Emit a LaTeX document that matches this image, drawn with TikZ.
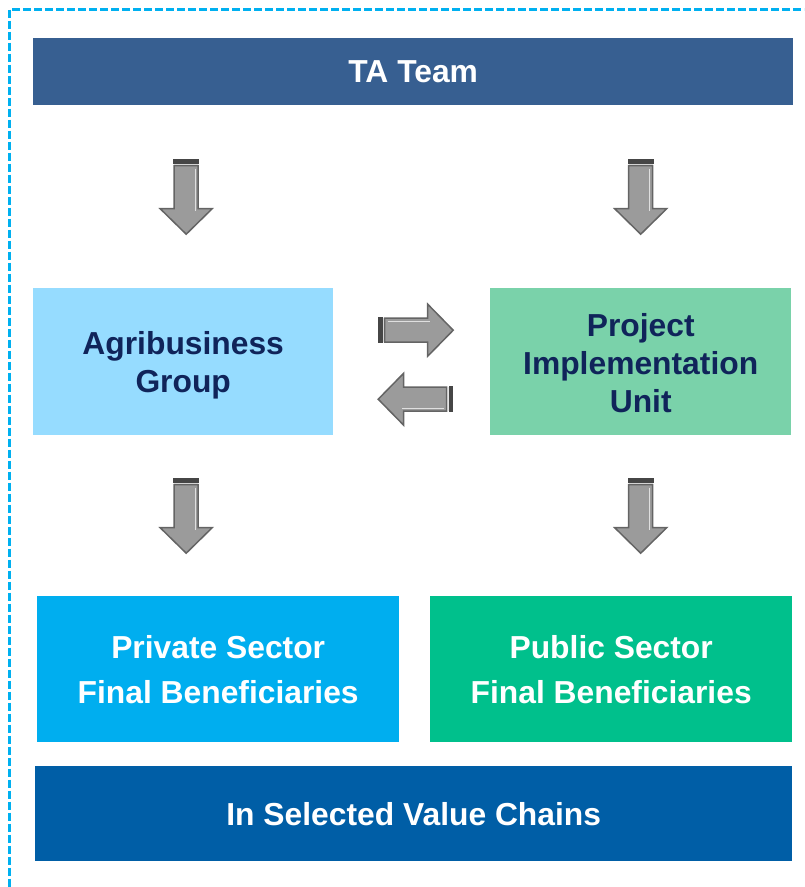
\documentclass[tikz,border=0pt]{standalone}
\usepackage{fontspec}
\setmainfont{Liberation Sans}
\usetikzlibrary{positioning, calc}

\definecolor{taBlue}{RGB}{55,95,145}
\definecolor{agriBlue}{RGB}{150,220,255}
\definecolor{piuGreen}{RGB}{122,210,170}
\definecolor{privBlue}{RGB}{0,174,239}
\definecolor{pubGreen}{RGB}{0,192,140}
\definecolor{chainBlue}{RGB}{0,94,166}
\definecolor{navyText}{RGB}{16,36,90}
\definecolor{frameBlue}{RGB}{0,176,240}
\definecolor{arrowFill}{RGB}{155,155,155}
\definecolor{arrowEdge}{RGB}{100,100,100}
\definecolor{arrowBar}{RGB}{70,70,70}

\tikzset{
  box/.style={anchor=north west, inner sep=0pt, align=center, font=\bfseries},
  midbox/.style={box, text=navyText, font=\bfseries\fontsize{31.8}{38}\selectfont},
  lowbox/.style={box, text=white, font=\bfseries\fontsize{31.8}{45}\selectfont},
  bandbox/.style={box, text=white, font=\bfseries\fontsize{31.8}{36}\selectfont},
  blockarrow/.pic={
    \fill[arrowBar] (-37.5,-13) rectangle (-33,13);
    \draw[white!80!gray, line width=0.8pt] (-32.2,-12) -- (-32.2,12);
    \filldraw[fill=arrowFill, draw=arrowEdge, line width=1.5pt, line join=miter]
      (-31,-12) -- (12,-12) -- (12,-26) -- (37.5,0) -- (12,26) -- (12,12) -- (-31,12) -- cycle;
    \draw[white!75!gray, line width=1pt] (-28,-9) -- (14,-9);
  }
}

\begin{document}
\begin{tikzpicture}[x=1pt, y=-1pt]
  \useasboundingbox (0,0) rectangle (804,887);
  \begin{scope}
    \clip (0,0) rectangle (804,887);
    \draw[frameBlue, line width=2.5pt, dash pattern=on 8pt off 3pt] (9.5,9.5) rectangle (830,910);
  \end{scope}

  % boxes
  \node[bandbox, fill=taBlue, minimum width=760pt, minimum height=67pt] (ta) at (33,38) {TA Team};
  \node[midbox, fill=agriBlue, minimum width=300pt, minimum height=147pt] (agri) at (33,288) {\rule{0pt}{30pt}Agribusiness\\Group};
  \node[midbox, fill=piuGreen, minimum width=301pt, minimum height=147pt] (piu) at (490,288) {\rule{0pt}{26pt}Project\\Implementation\\Unit};
  \node[lowbox, fill=privBlue, minimum width=362pt, minimum height=146pt] (priv) at (37,596) {Private Sector\\Final Beneficiaries};
  \node[lowbox, fill=pubGreen, minimum width=362pt, minimum height=146pt] (pub) at (430,596) {Public Sector\\Final Beneficiaries};
  \node[bandbox, fill=chainBlue, minimum width=757pt, minimum height=95pt] (chain) at (35,766) {In Selected Value Chains};

  % block arrows
  \pic[rotate=-90] at ($(ta.south -| agri)!0.5!(agri.north)+(3,0)$) {blockarrow};
  \pic[rotate=-90] at ($(ta.south -| piu)!0.5!(piu.north)$) {blockarrow};
  \pic[rotate=-90] at ($(agri.south)!0.5!(agri.south |- priv.north)+(3,0)$) {blockarrow};
  \pic[rotate=-90] at ($(piu.south)!0.5!(piu.south |- pub.north)$) {blockarrow};
  \pic at ($(agri.east)!0.5!(piu.west)+(4,-31.5)$) {blockarrow};
  \pic[rotate=180] at ($(agri.east)!0.5!(piu.west)+(4,37.5)$) {blockarrow};
\end{tikzpicture}
\end{document}
